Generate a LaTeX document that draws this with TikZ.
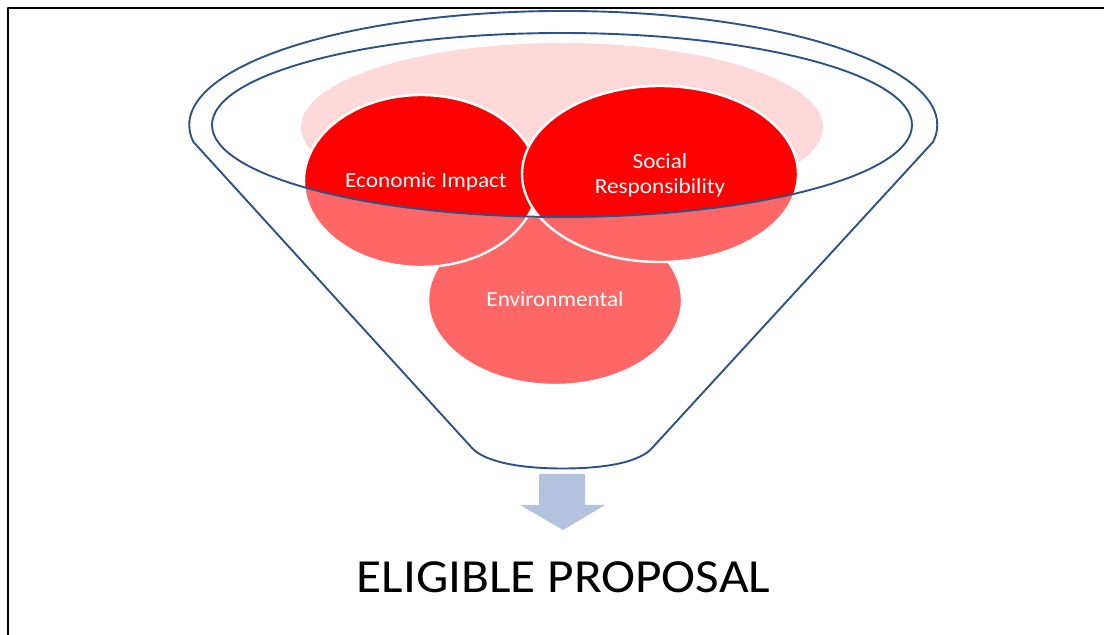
\documentclass[tikz,border=0pt]{standalone}
\usepackage{fontspec}
\setmainfont{Carlito}[FakeStretch=1.08]
\definecolor{funnelblue}{HTML}{2B5387}
\definecolor{lightred}{HTML}{FF6666}
\definecolor{fullred}{HTML}{FF0000}
\definecolor{pinkbg}{HTML}{FFD9D9}
\definecolor{arrowblue}{HTML}{B3C3DD}
\newcommand\drawpetals[1]{%
  \filldraw[fill=#1, petal] (555,335) ellipse [x radius=127, y radius=85];
  \filldraw[fill=#1, petal] (421,454) ellipse [x radius=117, y radius=86];
  \filldraw[fill=#1, petal] (660,461) ellipse [x radius=138, y radius=88];
}
\begin{document}
\begin{tikzpicture}[x=1pt,y=1pt, line join=round,
  funnelline/.style={draw=funnelblue, line width=1.9pt},
  petal/.style={draw=white, line width=2.4pt},
  petallabel/.style={text=white, font=\fontsize{21.5}{25}\selectfont, align=center, inner sep=0pt},
  titlelabel/.style={text=black, font=\fontsize{47.5}{52}\selectfont, inner sep=0pt}]
\useasboundingbox (0,0) rectangle (1104,635);
% frame
\draw[line width=2.7pt] (8,-5) -- (8,627) -- (1112,627);
% pink background
\fill[pinkbg] (562,508) ellipse [x radius=261, y radius=84];
% circles (light part)
\drawpetals{lightred}
% circles (inside the funnel mouth)
\begin{scope}
  \clip (562,510) ellipse [x radius=350, y radius=92];
  \drawpetals{fullred}
\end{scope}
% funnel
\draw[funnelline] (562,510) ellipse [x radius=350, y radius=92];
\draw[funnelline] (933,493) arc [start angle=-8.6, end angle=188.6, x radius=374, y radius=114]
  -- (472,187) .. controls (485,173) and (520,166.5) .. (563,166.5)
  .. controls (606,166.5) and (641,173) .. (653,188) -- cycle;
% arrow
\fill[arrowblue] (539,161) -- (585,161) -- (585,130) -- (605,130) -- (563,105)
  -- (520,130) -- (539,130) -- cycle;
% labels
\node[petallabel, anchor=base] (econ) at (426,447) {Economic Impact};
\node[petallabel] (social) at (660,459.5) {Social\\Responsibility};
\node[petallabel, anchor=base] (env) at (555,328) {Environmental};
\node[titlelabel, anchor=base] (title) at (563.5,42) {ELIGIBLE PROPOSAL};
\end{tikzpicture}
\end{document}
